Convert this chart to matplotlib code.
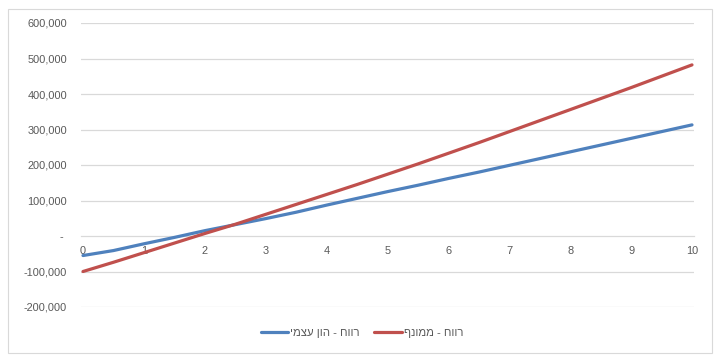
import matplotlib
matplotlib.use("Agg")
import matplotlib.pyplot as plt
from matplotlib.patches import Rectangle
from matplotlib.ticker import FuncFormatter

# ---- data ----
years = [0, 0.5, 1, 1.5, 2, 2.5, 3, 3.5, 4, 4.5, 5, 5.5, 6, 6.5, 7, 7.5, 8, 8.5, 9, 9.5, 10]
equity_profit = [-55000, -41000, -22000, -4000, 15000, 32000, 49000, 67000, 87000, 106000,
                 125000, 143000, 162000, 180000, 199000, 218000, 237000, 256000, 275000,
                 294000, 313000]
leveraged_profit = [-100000, -74000, -47000, -20000, 7000, 33000, 61000, 89000, 117000, 145000,
                    174000, 203000, 233000, 263000, 294000, 325000, 356000, 387000, 418000,
                    450000, 482000]
series_names = ["רווח - הון עצמי", "רווח - ממונף"]
x_ticks = list(range(0, 11))
y_ticks = list(range(-200000, 600001, 100000))

BLUE = "#4F81BD"
RED = "#C0504D"
GRID = "#D9D9D9"
TXT = "#595959"
FONT = ["Liberation Sans", "DejaVu Sans"]
FS = 7.9
LFS = 8.2

W, H = 719, 363
fig = plt.figure(figsize=(W / 100, H / 100), dpi=100)
fig.patch.set_facecolor("white")

# outer chart border
fig.patches.append(Rectangle((8 / W, 1 - 353 / H), (712 - 8) / W, (353 - 9) / H,
                             transform=fig.transFigure, fill=False,
                             edgecolor=GRID, linewidth=0.8))

left, right = 81 / W, 694 / W
top, bottom = 1 - 23 / H, 1 - 307 / H
ax = fig.add_axes([left, bottom, right - left, top - bottom])

ax.set_xlim(-0.033, 10.033)
ax.set_ylim(-200000, 600000)

for v in y_ticks:
    if v != 0:
        ax.axhline(v, color=GRID, linewidth=0.9, zorder=0)

for s in ["top", "right", "left"]:
    ax.spines[s].set_visible(False)
ax.spines["bottom"].set_position(("data", 0))
ax.spines["bottom"].set_color(GRID)
ax.spines["bottom"].set_linewidth(0.9)

ax.set_yticks(y_ticks)
ax.yaxis.set_major_formatter(FuncFormatter(lambda v, p: "- " if v == 0 else f"{int(v):,}"))
ax.set_xticks(x_ticks)
ax.set_xticklabels([str(t) for t in x_ticks])
ax.tick_params(axis="y", length=0, pad=10, labelcolor=TXT, labelsize=FS)
ax.tick_params(axis="x", length=0, pad=7, labelcolor=TXT, labelsize=FS)
for lab in ax.get_xticklabels() + ax.get_yticklabels():
    lab.set_family(FONT)

ax.plot(years, equity_profit, color=BLUE, linewidth=2.3, solid_capstyle="round",
        label=series_names[0][::-1], zorder=3)
ax.plot(years, leveraged_profit, color=RED, linewidth=2.3, solid_capstyle="round",
        label=series_names[1][::-1], zorder=3)

leg = fig.legend(loc="center", bbox_to_anchor=(362 / W, 1 - 333 / H), ncol=2,
                 frameon=False, prop={"family": FONT, "size": LFS},
                 handlelength=2.4, handletextpad=0.2, columnspacing=1.3)
for t in leg.get_texts():
    t.set_color(TXT)

fig.savefig("out.png", dpi=100, facecolor="white")
